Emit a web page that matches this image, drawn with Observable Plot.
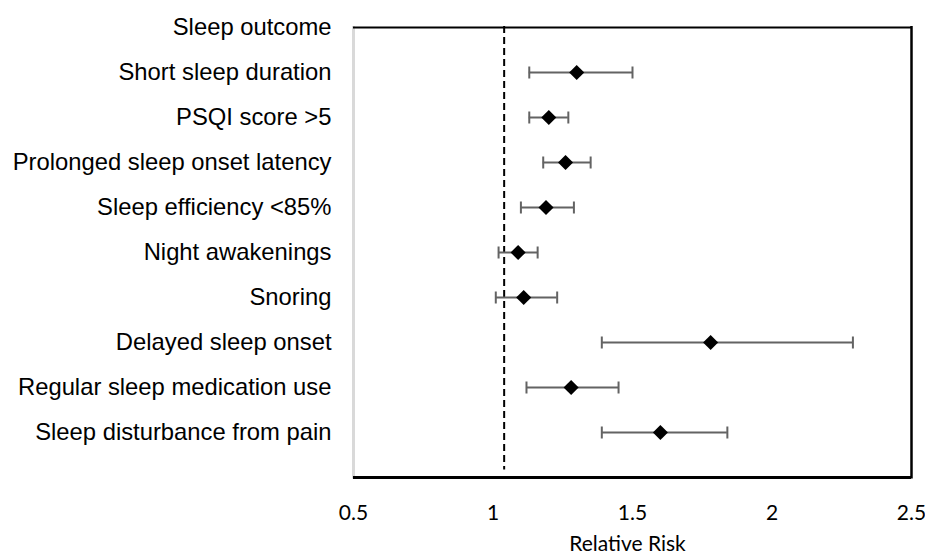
<!DOCTYPE html>
<html>
<head>
<meta charset="utf-8">
<script src="https://cdn.jsdelivr.net/npm/d3@7"></script>
<script src="https://cdn.jsdelivr.net/npm/@observablehq/plot@0.6"></script>
<style>
  html, body { margin: 0; padding: 0; background: #fff; }
  #chart svg { display: block; }
</style>
</head>
<body>
<div id="chart"></div>
<script>
// ---- data ----
const header = "Sleep outcome";
const outcomes = [
  "Short sleep duration",
  "PSQI score >5",
  "Prolonged sleep onset latency",
  "Sleep efficiency <85%",
  "Night awakenings",
  "Snoring",
  "Delayed sleep onset",
  "Regular sleep medication use",
  "Sleep disturbance from pain"
];
const rr    = [1.30, 1.20, 1.26, 1.19, 1.09, 1.11, 1.78, 1.28, 1.60];
const lower = [1.13, 1.13, 1.18, 1.10, 1.02, 1.01, 1.39, 1.12, 1.39];
const upper = [1.50, 1.27, 1.35, 1.29, 1.16, 1.23, 2.29, 1.45, 1.84];
const xTicks = [0.5, 1, 1.5, 2, 2.5];
const refLine = 1.04;
const xLabel = "Relative Risk";

const rows = outcomes.map((o, i) => ({outcome: o, rr: rr[i], lo: lower[i], hi: upper[i]}));
const yDomain = [header, ...outcomes, ""];

// vertical whisker-cap symbol (half-length equals the dot radius)
const capSymbol = {
  draw(context, size) {
    const h = Math.sqrt(size / Math.PI);
    context.moveTo(0, -h);
    context.lineTo(0, h);
  }
};

const chart = Plot.plot({
  width: 925,
  height: 557,
  marginLeft: 353,
  marginRight: 14,
  marginTop: 26,
  marginBottom: 78.5,
  style: {fontFamily: "'Liberation Sans', Arial, sans-serif", color: "#000", background: "#fff"},
  x: {domain: [0.5, 2.5], ticks: xTicks},
  y: {type: "point", domain: yDomain, padding: 0, inset: 0},
  marks: [
    // frame
    Plot.ruleX([0.5], {stroke: "#d9d9d9", strokeWidth: 3}),
    Plot.ruleX([2.5], {stroke: "#000", strokeWidth: 2.5}),
    Plot.ruleY([header], {y: d => d, stroke: "#000", strokeWidth: 2}),
    Plot.ruleY([""], {y: d => d, stroke: "#000", strokeWidth: 3}),
    // reference line
    Plot.ruleX([refLine], {stroke: "#000", strokeWidth: 2, strokeDasharray: "7,4", insetBottom: 9}),
    // confidence intervals
    Plot.ruleY(rows, {y: "outcome", x1: "lo", x2: "hi", stroke: "#636363", strokeWidth: 2}),
    Plot.dot(rows, {x: "lo", y: "outcome", symbol: capSymbol, r: 6, fill: "none", stroke: "#636363", strokeWidth: 2}),
    Plot.dot(rows, {x: "hi", y: "outcome", symbol: capSymbol, r: 6, fill: "none", stroke: "#636363", strokeWidth: 2}),
    // point estimates
    Plot.dot(rows, {x: "rr", y: "outcome", symbol: "diamond2", r: 6.8, fill: "#000", stroke: "none"}),
    // axes
    Plot.axisY({tickSize: 0, tickPadding: 22, fontSize: 23.8, label: null, fill: "#000"}),
    Plot.axisX({ticks: xTicks, tickSize: 0, tickPadding: 26, fontSize: 21, fontFamily: "Lato, 'Open Sans', sans-serif",
                tickFormat: d => String(d), label: null, fill: "#000"}),
    Plot.text([xLabel], {frameAnchor: "bottom", text: d => d, dy: 57, dx: -5, lineAnchor: "top",
                         fontSize: 21, fontFamily: "Lato, 'Open Sans', sans-serif", fill: "#000"})
  ]
});
document.getElementById("chart").appendChild(chart);
</script>
</body>
</html>
